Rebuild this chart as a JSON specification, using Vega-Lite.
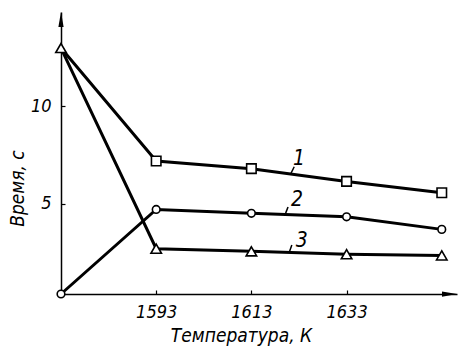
{
  "$schema": "https://vega.github.io/schema/vega-lite/v6.json",
  "width": 396,
  "height": 282,
  "autosize": {"type": "none"},
  "padding": {"left": 61, "top": 12, "right": 2, "bottom": 56},
  "background": "white",
  "config": {
    "view": {"stroke": null},
    "font": "DejaVu Sans Condensed, DejaVu Sans",
    "axis": {"grid": false}
  },
  "resolve": {"scale": {"shape": "independent"}},
  "datasets": {
    "curves": [
      {"T": 1573, "t": 12.96, "curve": "1"},
      {"T": 1593, "t": 7.19, "curve": "1"},
      {"T": 1613, "t": 6.8, "curve": "1"},
      {"T": 1633, "t": 6.15, "curve": "1"},
      {"T": 1653, "t": 5.57, "curve": "1"},
      {"T": 1573, "t": 0.4, "curve": "2"},
      {"T": 1593, "t": 4.72, "curve": "2"},
      {"T": 1613, "t": 4.52, "curve": "2"},
      {"T": 1633, "t": 4.34, "curve": "2"},
      {"T": 1653, "t": 3.7, "curve": "2"},
      {"T": 1573, "t": 12.96, "curve": "3"},
      {"T": 1593, "t": 2.71, "curve": "3"},
      {"T": 1613, "t": 2.58, "curve": "3"},
      {"T": 1633, "t": 2.43, "curve": "3"},
      {"T": 1653, "t": 2.37, "curve": "3"}
    ],
    "labels": [
      {"T": 1623.0, "t": 7.3, "T1": 1622.0, "t1": 6.9, "T2": 1621.2, "t2": 6.5, "label": "1"},
      {"T": 1622.6, "t": 5.2, "T1": 1620.7, "t1": 4.84, "T2": 1620.2, "t2": 4.53, "label": "2"},
      {"T": 1623.6, "t": 3.1, "T1": 1621.5, "t1": 2.9, "T2": 1621.0, "t2": 2.56, "label": "3"}
    ],
    "arrows": [
      {"T": 1573, "t": 14.8, "dir": "up"},
      {"T": 1656.2, "t": 0.4, "dir": "right"}
    ]
  },
  "layer": [
    {
      "data": {"name": "curves"},
      "mark": {"type": "line", "color": "black", "strokeWidth": 3, "clip": false},
      "encoding": {
        "x": {
          "field": "T", "type": "quantitative",
          "scale": {"domain": [1573, 1656.2], "nice": false, "zero": false},
          "axis": {
            "values": [1593, 1613, 1633],
            "format": "d",
            "title": "Температура, К",
            "titleFont": "DejaVu Sans Condensed, DejaVu Sans",
            "titleFontStyle": "italic",
            "titleFontWeight": "normal",
            "titleFontSize": 19,
            "titleColor": "black",
            "titleX": 180,
            "titleY": 47,
            "titleBaseline": "alphabetic",
            "titleAnchor": "middle",
            "labelFont": "DejaVu Sans Condensed, DejaVu Sans",
            "labelFontStyle": "italic",
            "labelFontSize": 18,
            "labelColor": "black",
            "labelPadding": 13,
            "labelBaseline": "top",
            "domainColor": "black",
            "domainWidth": 1.5,
            "tickColor": "black",
            "tickWidth": 1.2,
            "tickSize": -4
          }
        },
        "y": {
          "field": "t", "type": "quantitative",
          "scale": {"domain": [0.4, 14.8], "nice": false, "zero": false},
          "axis": {
            "values": [5, 10],
            "title": "Время, с",
            "titleFont": "DejaVu Sans Condensed, DejaVu Sans",
            "titleFontStyle": "italic",
            "titleFontWeight": "normal",
            "titleFontSize": 19,
            "titleColor": "black",
            "titleAngle": 270,
            "titleX": -38,
            "titleY": 176,
            "titleBaseline": "alphabetic",
            "titleAnchor": "middle",
            "labelFont": "DejaVu Sans Condensed, DejaVu Sans",
            "labelFontStyle": "italic",
            "labelFontSize": 18,
            "labelColor": "black",
            "labelPadding": 14,
            "domainColor": "black",
            "domainWidth": 1.5,
            "tickColor": "black",
            "tickWidth": 1.2,
            "tickSize": -4
          }
        },
        "detail": {"field": "curve"}
      }
    },
    {
      "data": {"name": "curves"},
      "transform": [{"filter": "datum.curve === '1' && datum.T > 1573"}],
      "mark": {"type": "point", "shape": "square", "size": 90, "filled": true, "fill": "white", "stroke": "black", "strokeWidth": 1.6, "opacity": 1, "clip": false},
      "encoding": {
        "x": {"field": "T", "type": "quantitative"},
        "y": {"field": "t", "type": "quantitative"}
      }
    },
    {
      "data": {"name": "curves"},
      "transform": [{"filter": "datum.curve === '2'"}],
      "mark": {"type": "point", "shape": "circle", "size": 58, "filled": true, "fill": "white", "stroke": "black", "strokeWidth": 1.6, "opacity": 1, "clip": false},
      "encoding": {
        "x": {"field": "T", "type": "quantitative"},
        "y": {"field": "t", "type": "quantitative"}
      }
    },
    {
      "data": {"name": "curves"},
      "transform": [{"filter": "datum.curve === '3'"}],
      "mark": {"type": "point", "shape": "triangle-up", "size": 110, "filled": true, "fill": "white", "stroke": "black", "strokeWidth": 1.6, "opacity": 1, "clip": false},
      "encoding": {
        "x": {"field": "T", "type": "quantitative"},
        "y": {"field": "t", "type": "quantitative"}
      }
    },
    {
      "data": {"name": "labels"},
      "mark": {"type": "rule", "color": "black", "strokeWidth": 1.5},
      "encoding": {
        "x": {"field": "T1", "type": "quantitative"},
        "y": {"field": "t1", "type": "quantitative"},
        "x2": {"field": "T2"},
        "y2": {"field": "t2"}
      }
    },
    {
      "data": {"name": "labels"},
      "mark": {"type": "text", "font": "DejaVu Sans Condensed, DejaVu Sans", "fontStyle": "italic", "fontSize": 21, "color": "black", "align": "center", "baseline": "middle"},
      "encoding": {
        "x": {"field": "T", "type": "quantitative"},
        "y": {"field": "t", "type": "quantitative"},
        "text": {"field": "label"}
      }
    },
    {
      "data": {"name": "arrows"},
      "mark": {"type": "point", "filled": true, "color": "black", "opacity": 1, "size": 225, "clip": false},
      "encoding": {
        "x": {"field": "T", "type": "quantitative"},
        "y": {"field": "t", "type": "quantitative"},
        "shape": {
          "field": "dir", "type": "nominal",
          "scale": {"domain": ["up", "right"], "range": ["M0,0L0.35,2L-0.35,2Z", "M0,0L-2,-0.35L-2,0.35Z"]},
          "legend": null
        }
      }
    }
  ]
}
